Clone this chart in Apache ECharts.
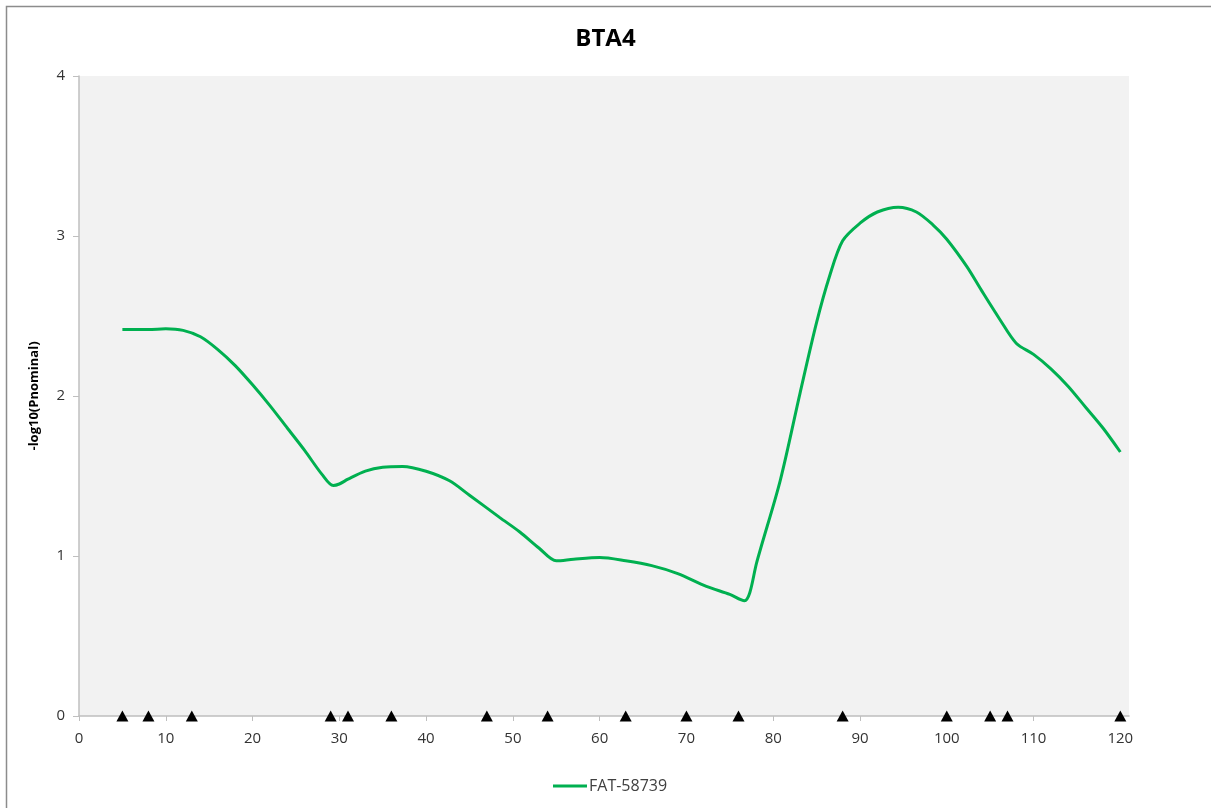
<!DOCTYPE html>
<html>
<head>
<meta charset="utf-8">
<title>BTA4</title>
<script src="https://cdn.jsdelivr.net/npm/echarts@6/dist/echarts.min.js"></script>
<style>
  html, body { margin: 0; padding: 0; background: #ffffff; }
  #chart { width: 1211px; height: 808px; }
</style>
</head>
<body>
<div id="chart"></div>
<script>
// Position along the chromosome (cM) and -log10(P) profile of the test statistic
const positions = [5, 8, 10, 12, 14, 16, 18, 20, 22, 24, 26, 28, 29.3, 30, 31, 33, 35, 37.3, 40, 42.7, 45,
  48.5, 50.8, 53, 55, 57, 60, 63, 66, 69, 72.3, 75, 76.7, 77.3, 78.1, 80.8, 83.1, 85, 86.5, 88, 90,
  92, 94.4, 96.5, 98.4, 100, 102.3, 104, 106.1, 108, 110, 112, 114, 116, 118, 120];
const logP = [2.415, 2.415, 2.42, 2.41, 2.37, 2.29, 2.19, 2.07, 1.94, 1.80, 1.66, 1.51, 1.44, 1.45, 1.48, 1.53, 1.555, 1.56, 1.53, 1.47, 1.38,
  1.24, 1.15, 1.05, 0.97, 0.98, 0.99, 0.97, 0.94, 0.89, 0.81, 0.76, 0.72, 0.77, 0.96, 1.47, 2.02, 2.46, 2.75, 2.97, 3.08,
  3.15, 3.18, 3.15, 3.07, 2.98, 2.81, 2.66, 2.48, 2.33, 2.26, 2.17, 2.06, 1.93, 1.80, 1.65];

// Marker positions drawn on the baseline
const markerPositions = [5, 8, 13, 29, 31, 36, 47, 54, 63, 70, 76, 88, 100, 105, 107, 120];

// Axis ticks
const xTicks = [0, 10, 20, 30, 40, 50, 60, 70, 80, 90, 100, 110, 120];
const yTicks = [0, 1, 2, 3, 4];

const seriesName = 'FAT-58739';
const chartTitle = 'BTA4';
const yAxisTitle = '-log10(Pnominal)';

const chart = echarts.init(document.getElementById('chart'), null, { renderer: 'canvas' });

const labelFont = '"Open Sans", "Liberation Sans", sans-serif';

chart.setOption({
  animation: false,
  backgroundColor: '#ffffff',
  textStyle: { fontFamily: labelFont },
  graphic: [{
    type: 'rect',
    shape: { x: 6.5, y: 6.5, width: 1215, height: 815 },
    style: { fill: 'none', stroke: '#8c8c8c', lineWidth: 1.5 },
    silent: true,
    z: -1
  }],
  title: {
    text: chartTitle,
    left: 'center',
    top: 22,
    textStyle: { fontSize: 24, fontWeight: 'bold', color: '#000000', fontFamily: labelFont }
  },
  legend: {
    data: [seriesName],
    left: 548,
    top: 773,
    icon: 'rect',
    itemWidth: 34,
    itemHeight: 3,
    itemGap: 10,
    textStyle: { fontSize: 16, color: '#404040', fontFamily: labelFont, padding: [0, 0, 0, -3] }
  },
  grid: {
    left: 79,
    top: 76,
    right: 82,
    bottom: 92,
    show: true,
    backgroundColor: '#f2f2f2',
    borderWidth: 0
  },
  xAxis: {
    type: 'value',
    min: 0,
    max: 121,
    interval: 10,
    axisLine: { show: true, onZero: false, lineStyle: { color: '#bfbfbf', width: 1.5 } },
    axisTick: { show: true, length: 5, lineStyle: { color: '#bfbfbf' }, customValues: xTicks },
    axisLabel: { fontSize: 15, color: '#333333', margin: 15, customValues: xTicks },
    splitLine: { show: false }
  },
  yAxis: {
    type: 'value',
    min: 0,
    max: 4,
    interval: 1,
    name: yAxisTitle,
    nameLocation: 'middle',
    nameGap: 38,
    nameTextStyle: { fontSize: 13, fontWeight: 'bold', color: '#000000' },
    axisLine: { show: true, lineStyle: { color: '#bfbfbf', width: 1.5 } },
    axisTick: { show: true, length: 6, lineStyle: { color: '#bfbfbf' }, customValues: yTicks },
    axisLabel: { fontSize: 15, color: '#333333', margin: 14, customValues: yTicks },
    splitLine: { show: false }
  },
  series: [
    {
      name: seriesName,
      type: 'line',
      data: positions.map((p, i) => [p, logP[i]]),
      smooth: 0.3,
      showSymbol: false,
      symbol: 'none',
      lineStyle: { color: '#00b050', width: 3 },
      itemStyle: { color: '#00b050' },
      z: 3
    },
    {
      name: 'markers',
      type: 'scatter',
      data: markerPositions.map(p => [p, 0]),
      symbol: 'triangle',
      symbolSize: [12, 11],
      itemStyle: { color: '#000000', opacity: 1 },
      clip: false,
      z: 4
    }
  ]
});
</script>
</body>
</html>
